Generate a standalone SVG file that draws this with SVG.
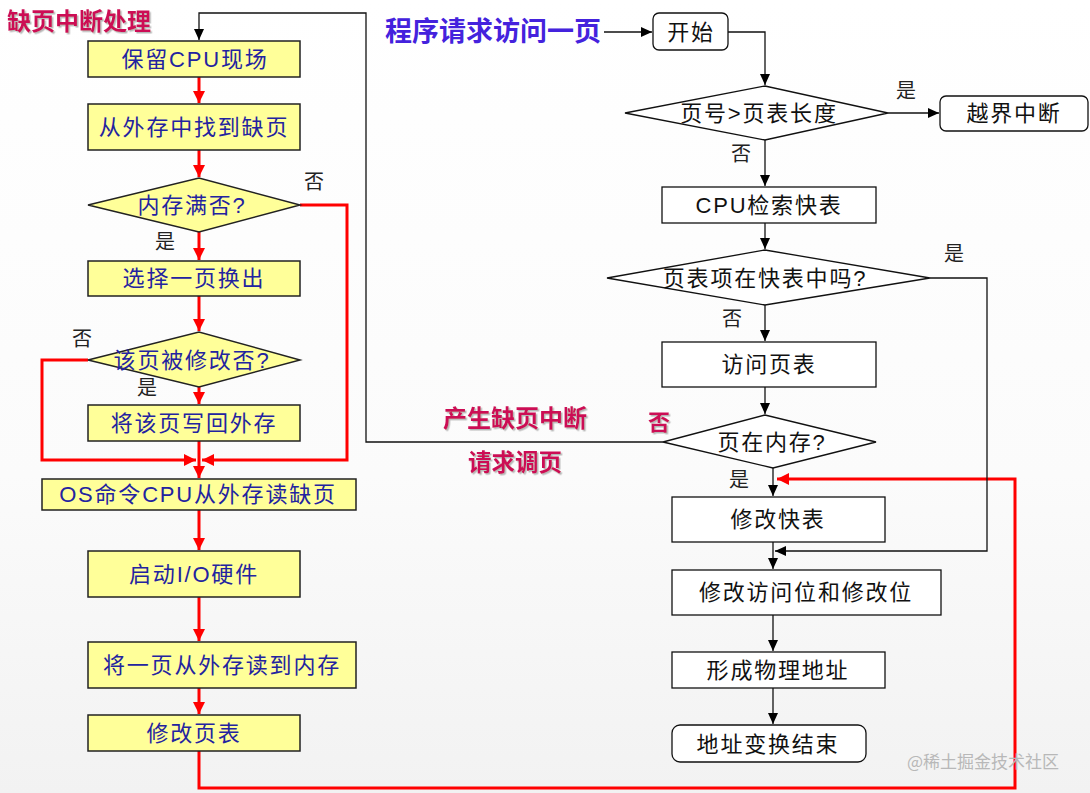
<svg xmlns="http://www.w3.org/2000/svg" width="1090" height="793" viewBox="0 0 1090 793">
<defs>
<linearGradient id="bg" x1="0" y1="0" x2="0" y2="1">
<stop offset="0" stop-color="#ffffff"/>
<stop offset="0.6" stop-color="#fbfbfb"/>
<stop offset="1" stop-color="#f2f2f2"/>
</linearGradient>
<marker id="ar" markerUnits="userSpaceOnUse" markerWidth="14" markerHeight="14" refX="12" refY="6" orient="auto">
<path d="M0,0 L12,6 L0,12 z" fill="#ff0000"/>
</marker>
<marker id="ab" markerUnits="userSpaceOnUse" markerWidth="12" markerHeight="12" refX="11" refY="5" orient="auto">
<path d="M0,0 L11,5 L0,10 z" fill="#000"/>
</marker>
<filter id="sh" x="-5%" y="-20%" width="110%" height="140%">
<feDropShadow dx="1.5" dy="1.5" stdDeviation="0.6" flood-color="#888" flood-opacity="0.6"/>
</filter>
</defs>
<style>
.y{fill:#ffff99;stroke:#222;stroke-width:1.5}
.w{fill:#fff;stroke:#111;stroke-width:1.3}
.lt{font-family:"Liberation Sans","Noto Sans CJK SC",sans-serif;font-size:22px;fill:#2323a0;text-anchor:middle;letter-spacing:1.8px}
.rt{font-family:"Liberation Sans","Noto Sans CJK SC",sans-serif;font-size:22px;fill:#111;text-anchor:middle;letter-spacing:1.8px}
.sm{font-family:"Noto Sans CJK SC",sans-serif;font-size:20px;fill:#222}
.red{font-family:"Noto Sans CJK SC",sans-serif;font-weight:bold;fill:#cc1155}
.rl{fill:none;stroke:#ff0000;stroke-width:3}
.bl{fill:none;stroke:#111;stroke-width:1.3}
</style>
<rect x="0" y="0" width="1090" height="793" fill="url(#bg)"/>

<text x="7" y="30" class="red" font-size="24" filter="url(#sh)">缺页中断处理</text>
<text x="385" y="41" font-family="Noto Sans CJK SC,sans-serif" font-weight="bold" font-size="27" fill="#4422dd">程序请求访问一页</text>
<text x="443" y="427" class="red" font-size="24" filter="url(#sh)">产生缺页中断</text>
<text x="468" y="471" class="red" font-size="23.5" filter="url(#sh)">请求调页</text>
<text x="648" y="430" class="red" font-size="22" filter="url(#sh)">否</text>

<g id="connectors">
<line class="rl" x1="199" y1="77" x2="199" y2="103" marker-end="url(#ar)"/>
<line class="rl" x1="199" y1="150" x2="199" y2="177" marker-end="url(#ar)"/>
<line class="rl" x1="199" y1="232" x2="199" y2="260" marker-end="url(#ar)"/>
<line class="rl" x1="199" y1="296" x2="199" y2="331" marker-end="url(#ar)"/>
<line class="rl" x1="199" y1="387" x2="199" y2="404" marker-end="url(#ar)"/>
<line class="rl" x1="199" y1="441" x2="199" y2="478" marker-end="url(#ar)"/>
<polyline class="rl" points="300,205 347,205 347,460 202,460" marker-end="url(#ar)"/>
<polyline class="rl" points="88,360 42,360 42,460 196,460" marker-end="url(#ar)"/>
<line class="rl" x1="199" y1="510" x2="199" y2="550" marker-end="url(#ar)"/>
<line class="rl" x1="199" y1="597" x2="199" y2="641" marker-end="url(#ar)"/>
<line class="rl" x1="199" y1="688" x2="199" y2="714" marker-end="url(#ar)"/>
<polyline class="rl" points="199,751 199,788 1015,788 1015,479 777,479" marker-end="url(#ar)"/>
<line class="bl" x1="604" y1="32" x2="652" y2="32" marker-end="url(#ab)"/>
<polyline class="bl" points="728,32 765,32 765,85" marker-end="url(#ab)"/>
<line class="bl" x1="888" y1="113" x2="939" y2="113" marker-end="url(#ab)"/>
<line class="bl" x1="765" y1="140" x2="765" y2="186" marker-end="url(#ab)"/>
<line class="bl" x1="765" y1="223" x2="765" y2="249" marker-end="url(#ab)"/>
<polyline class="bl" points="930,278 987,278 987,551 775,551" marker-end="url(#ab)"/>
<line class="bl" x1="765" y1="305" x2="765" y2="341" marker-end="url(#ab)"/>
<line class="bl" x1="765" y1="387" x2="765" y2="414" marker-end="url(#ab)"/>
<line class="bl" x1="773" y1="468" x2="773" y2="496" marker-end="url(#ab)"/>
<line class="bl" x1="773" y1="542" x2="773" y2="569" marker-end="url(#ab)"/>
<line class="bl" x1="773" y1="615" x2="773" y2="651" marker-end="url(#ab)"/>
<line class="bl" x1="773" y1="688" x2="773" y2="724" marker-end="url(#ab)"/>
<polyline class="bl" points="663,442 366,442 366,13 199,13 199,40" marker-end="url(#ab)"/>
</g>

<g id="n1"><rect class="y" x="88" y="41" width="212" height="36"/><text class="lt" x="195" y="67">保留CPU现场</text></g>
<g id="n2"><rect class="y" x="88" y="104" width="212" height="46"/><text class="lt" x="194" y="135">从外存中找到缺页</text></g>
<g id="n3"><polygon class="y" points="88,205 199,178 300,205 199,232"/><text class="lt" x="192" y="213">内存满否?</text>
<text class="sm" x="304" y="189">否</text><text class="sm" x="155" y="249">是</text></g>
<g id="n4"><rect class="y" x="88" y="261" width="212" height="35"/><text class="lt" x="194" y="286">选择一页换出</text></g>
<g id="n5"><polygon class="y" points="88,360 199,332 300,360 199,387"/><text class="lt" x="192" y="368">该页被修改否?</text>
<text class="sm" x="72" y="346">否</text><text class="sm" x="137" y="395">是</text></g>
<g id="n6"><rect class="y" x="88" y="405" width="212" height="36"/><text class="lt" x="194" y="431">将该页写回外存</text></g>
<g id="n7"><rect class="y" x="42" y="479" width="314" height="31"/><text class="lt" x="198" y="502">OS命令CPU从外存读缺页</text></g>
<g id="n8"><rect class="y" x="88" y="551" width="212" height="46"/><text class="lt" x="194" y="582">启动I/O硬件</text></g>
<g id="n9"><rect class="y" x="88" y="642" width="268" height="46"/><text class="lt" x="222" y="673">将一页从外存读到内存</text></g>
<g id="n10"><rect class="y" x="88" y="715" width="212" height="36"/><text class="lt" x="194" y="741">修改页表</text></g>

<g id="r1"><rect class="w" x="653" y="13" width="75" height="37" rx="6"/><text class="rt" x="691" y="40">开始</text></g>
<g id="r2"><polygon class="w" points="625,113 765,86 888,113 765,140"/><text class="rt" x="759" y="121">页号&gt;页表长度</text>
<text class="sm" x="896" y="98">是</text><text class="sm" x="731" y="161">否</text></g>
<g id="r3"><rect class="w" x="940" y="96" width="148" height="35" rx="6"/><text class="rt" x="1014" y="121">越界中断</text></g>
<g id="r4"><rect class="w" x="662" y="187" width="214" height="36"/><text class="rt" x="769" y="213">CPU检索快表</text></g>
<g id="r5"><polygon class="w" points="607,278 765,250 930,278 765,305"/><text class="rt" x="765" y="286">页表项在快表中吗?</text>
<text class="sm" x="944" y="261">是</text><text class="sm" x="722" y="326">否</text></g>
<g id="r6"><rect class="w" x="662" y="342" width="214" height="45"/><text class="rt" x="769" y="372">访问页表</text></g>
<g id="r7"><polygon class="w" points="663,442 765,415 876,442 773,468"/><text class="rt" x="772" y="450">页在内存?</text>
<text class="sm" x="729" y="487">是</text></g>
<g id="r8"><rect class="w" x="672" y="497" width="213" height="45"/><text class="rt" x="778" y="527">修改快表</text></g>
<g id="r9"><rect class="w" x="672" y="570" width="269" height="45"/><text class="rt" x="806" y="600">修改访问位和修改位</text></g>
<g id="r10"><rect class="w" x="672" y="652" width="213" height="36"/><text class="rt" x="778" y="678">形成物理地址</text></g>
<g id="r11"><rect class="w" x="672" y="725" width="194" height="37" rx="8"/><text class="rt" x="768" y="752">地址变换结束</text></g>

<text x="907" y="768" font-family="Noto Sans CJK SC,sans-serif" font-size="17" fill="#b8b8b8">@稀土掘金技术社区</text>
</svg>
